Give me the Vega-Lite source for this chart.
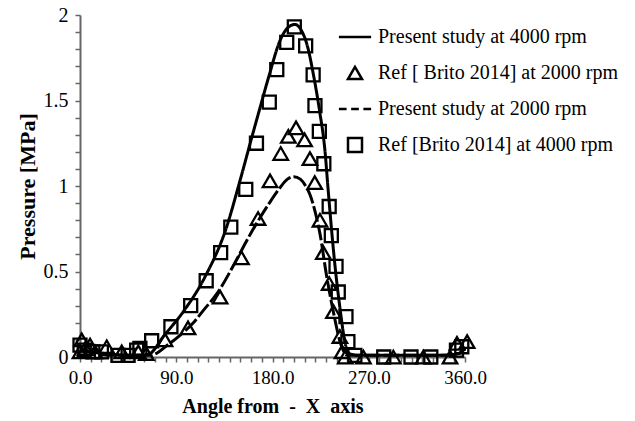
{
  "$schema": "https://vega.github.io/schema/vega-lite/v6.json",
  "width": 385,
  "height": 342,
  "autosize": {"type": "none"},
  "padding": {"left": 80, "top": 15, "right": 170, "bottom": 64},
  "background": "white",
  "config": {
    "view": {"stroke": null},
    "font": "Liberation Serif",
    "axis": {
      "domainColor": "#666",
      "domainWidth": 2,
      "tickColor": "#666",
      "tickWidth": 1.5,
      "grid": false,
      "labelFont": "Liberation Serif",
      "labelFontSize": 19,
      "labelColor": "black",
      "titleFont": "Liberation Serif",
      "titleFontWeight": "bold",
      "titleColor": "black"
    }
  },
  "data": {
    "values": [
      {"s": "Present study at 4000 rpm", "a": 0, "p": 0.05},
      {"s": "Present study at 4000 rpm", "a": 10, "p": 0.03},
      {"s": "Present study at 4000 rpm", "a": 25, "p": 0.02},
      {"s": "Present study at 4000 rpm", "a": 45, "p": 0.01},
      {"s": "Present study at 4000 rpm", "a": 60, "p": 0.01},
      {"s": "Present study at 4000 rpm", "a": 65.5, "p": 0.02},
      {"s": "Present study at 4000 rpm", "a": 78, "p": 0.12},
      {"s": "Present study at 4000 rpm", "a": 96, "p": 0.26},
      {"s": "Present study at 4000 rpm", "a": 117, "p": 0.47},
      {"s": "Present study at 4000 rpm", "a": 136, "p": 0.74},
      {"s": "Present study at 4000 rpm", "a": 150, "p": 1.04},
      {"s": "Present study at 4000 rpm", "a": 160, "p": 1.27},
      {"s": "Present study at 4000 rpm", "a": 168, "p": 1.45},
      {"s": "Present study at 4000 rpm", "a": 177, "p": 1.65},
      {"s": "Present study at 4000 rpm", "a": 187, "p": 1.85},
      {"s": "Present study at 4000 rpm", "a": 195, "p": 1.93},
      {"s": "Present study at 4000 rpm", "a": 201, "p": 1.945},
      {"s": "Present study at 4000 rpm", "a": 207, "p": 1.91},
      {"s": "Present study at 4000 rpm", "a": 213, "p": 1.81},
      {"s": "Present study at 4000 rpm", "a": 218, "p": 1.66},
      {"s": "Present study at 4000 rpm", "a": 224, "p": 1.44},
      {"s": "Present study at 4000 rpm", "a": 229, "p": 1.21},
      {"s": "Present study at 4000 rpm", "a": 232, "p": 0.98},
      {"s": "Present study at 4000 rpm", "a": 235, "p": 0.76},
      {"s": "Present study at 4000 rpm", "a": 238.5, "p": 0.53},
      {"s": "Present study at 4000 rpm", "a": 243, "p": 0.29},
      {"s": "Present study at 4000 rpm", "a": 248, "p": 0.08},
      {"s": "Present study at 4000 rpm", "a": 252, "p": 0.02},
      {"s": "Present study at 4000 rpm", "a": 260, "p": 0.01},
      {"s": "Present study at 4000 rpm", "a": 300, "p": 0.01},
      {"s": "Present study at 4000 rpm", "a": 340, "p": 0.01},
      {"s": "Present study at 4000 rpm", "a": 354, "p": 0.02},
      {"s": "Present study at 4000 rpm", "a": 360, "p": 0.06},

      {"s": "Present study at 2000 rpm", "a": 0, "p": 0.04},
      {"s": "Present study at 2000 rpm", "a": 15, "p": 0.02},
      {"s": "Present study at 2000 rpm", "a": 30, "p": 0.01},
      {"s": "Present study at 2000 rpm", "a": 50, "p": 0.01},
      {"s": "Present study at 2000 rpm", "a": 65.5, "p": 0.01},
      {"s": "Present study at 2000 rpm", "a": 84, "p": 0.08},
      {"s": "Present study at 2000 rpm", "a": 94, "p": 0.13},
      {"s": "Present study at 2000 rpm", "a": 106, "p": 0.2},
      {"s": "Present study at 2000 rpm", "a": 115, "p": 0.27},
      {"s": "Present study at 2000 rpm", "a": 128, "p": 0.37},
      {"s": "Present study at 2000 rpm", "a": 146.5, "p": 0.57},
      {"s": "Present study at 2000 rpm", "a": 155, "p": 0.67},
      {"s": "Present study at 2000 rpm", "a": 165, "p": 0.78},
      {"s": "Present study at 2000 rpm", "a": 177, "p": 0.9},
      {"s": "Present study at 2000 rpm", "a": 187, "p": 0.99},
      {"s": "Present study at 2000 rpm", "a": 194, "p": 1.04},
      {"s": "Present study at 2000 rpm", "a": 200, "p": 1.054},
      {"s": "Present study at 2000 rpm", "a": 206, "p": 1.04},
      {"s": "Present study at 2000 rpm", "a": 211, "p": 1.0},
      {"s": "Present study at 2000 rpm", "a": 215, "p": 0.95},
      {"s": "Present study at 2000 rpm", "a": 221, "p": 0.82},
      {"s": "Present study at 2000 rpm", "a": 224.4, "p": 0.72},
      {"s": "Present study at 2000 rpm", "a": 230.7, "p": 0.47},
      {"s": "Present study at 2000 rpm", "a": 236.7, "p": 0.27},
      {"s": "Present study at 2000 rpm", "a": 244.7, "p": 0.06},
      {"s": "Present study at 2000 rpm", "a": 250, "p": 0.01},
      {"s": "Present study at 2000 rpm", "a": 260, "p": 0.01},
      {"s": "Present study at 2000 rpm", "a": 300, "p": 0.01},
      {"s": "Present study at 2000 rpm", "a": 340, "p": 0.01},
      {"s": "Present study at 2000 rpm", "a": 354, "p": 0.02},
      {"s": "Present study at 2000 rpm", "a": 360, "p": 0.05},

      {"s": "Ref [ Brito 2014] at 2000 rpm", "a": 0, "p": 0.03},
      {"s": "Ref [ Brito 2014] at 2000 rpm", "a": 1.6, "p": 0.1},
      {"s": "Ref [ Brito 2014] at 2000 rpm", "a": 5, "p": 0.05},
      {"s": "Ref [ Brito 2014] at 2000 rpm", "a": 9.4, "p": 0.07},
      {"s": "Ref [ Brito 2014] at 2000 rpm", "a": 14, "p": 0.03},
      {"s": "Ref [ Brito 2014] at 2000 rpm", "a": 25, "p": 0.06},
      {"s": "Ref [ Brito 2014] at 2000 rpm", "a": 39, "p": 0.03},
      {"s": "Ref [ Brito 2014] at 2000 rpm", "a": 54.5, "p": 0.03},
      {"s": "Ref [ Brito 2014] at 2000 rpm", "a": 62, "p": 0.02},
      {"s": "Ref [ Brito 2014] at 2000 rpm", "a": 79.5, "p": 0.1},
      {"s": "Ref [ Brito 2014] at 2000 rpm", "a": 101, "p": 0.17},
      {"s": "Ref [ Brito 2014] at 2000 rpm", "a": 131, "p": 0.35},
      {"s": "Ref [ Brito 2014] at 2000 rpm", "a": 151, "p": 0.58},
      {"s": "Ref [ Brito 2014] at 2000 rpm", "a": 166.5, "p": 0.81},
      {"s": "Ref [ Brito 2014] at 2000 rpm", "a": 177.7, "p": 1.03},
      {"s": "Ref [ Brito 2014] at 2000 rpm", "a": 187.7, "p": 1.19},
      {"s": "Ref [ Brito 2014] at 2000 rpm", "a": 194.8, "p": 1.29},
      {"s": "Ref [ Brito 2014] at 2000 rpm", "a": 202, "p": 1.34},
      {"s": "Ref [ Brito 2014] at 2000 rpm", "a": 210, "p": 1.27},
      {"s": "Ref [ Brito 2014] at 2000 rpm", "a": 215, "p": 1.16},
      {"s": "Ref [ Brito 2014] at 2000 rpm", "a": 219.5, "p": 1.02},
      {"s": "Ref [ Brito 2014] at 2000 rpm", "a": 224.4, "p": 0.8},
      {"s": "Ref [ Brito 2014] at 2000 rpm", "a": 227.5, "p": 0.61},
      {"s": "Ref [ Brito 2014] at 2000 rpm", "a": 233, "p": 0.43},
      {"s": "Ref [ Brito 2014] at 2000 rpm", "a": 237, "p": 0.265},
      {"s": "Ref [ Brito 2014] at 2000 rpm", "a": 243, "p": 0.12},
      {"s": "Ref [ Brito 2014] at 2000 rpm", "a": 245, "p": 0.03},
      {"s": "Ref [ Brito 2014] at 2000 rpm", "a": 248, "p": 0.0},
      {"s": "Ref [ Brito 2014] at 2000 rpm", "a": 265, "p": 0.0},
      {"s": "Ref [ Brito 2014] at 2000 rpm", "a": 293, "p": 0.0},
      {"s": "Ref [ Brito 2014] at 2000 rpm", "a": 321, "p": 0.0},
      {"s": "Ref [ Brito 2014] at 2000 rpm", "a": 346, "p": 0.0},
      {"s": "Ref [ Brito 2014] at 2000 rpm", "a": 352.5, "p": 0.08},
      {"s": "Ref [ Brito 2014] at 2000 rpm", "a": 362, "p": 0.09},

      {"s": "Ref [Brito 2014] at 4000 rpm", "a": 0, "p": 0.07},
      {"s": "Ref [Brito 2014] at 4000 rpm", "a": 4, "p": 0.04},
      {"s": "Ref [Brito 2014] at 4000 rpm", "a": 12, "p": 0.03},
      {"s": "Ref [Brito 2014] at 4000 rpm", "a": 20, "p": 0.03},
      {"s": "Ref [Brito 2014] at 4000 rpm", "a": 35.5, "p": 0.01},
      {"s": "Ref [Brito 2014] at 4000 rpm", "a": 45, "p": 0.01},
      {"s": "Ref [Brito 2014] at 4000 rpm", "a": 53, "p": 0.04},
      {"s": "Ref [Brito 2014] at 4000 rpm", "a": 56, "p": 0.05},
      {"s": "Ref [Brito 2014] at 4000 rpm", "a": 67, "p": 0.095},
      {"s": "Ref [Brito 2014] at 4000 rpm", "a": 85, "p": 0.177},
      {"s": "Ref [Brito 2014] at 4000 rpm", "a": 103.5, "p": 0.3},
      {"s": "Ref [Brito 2014] at 4000 rpm", "a": 118, "p": 0.446},
      {"s": "Ref [Brito 2014] at 4000 rpm", "a": 131.5, "p": 0.61},
      {"s": "Ref [Brito 2014] at 4000 rpm", "a": 141, "p": 0.76},
      {"s": "Ref [Brito 2014] at 4000 rpm", "a": 155, "p": 0.98},
      {"s": "Ref [Brito 2014] at 4000 rpm", "a": 165, "p": 1.25},
      {"s": "Ref [Brito 2014] at 4000 rpm", "a": 177, "p": 1.49},
      {"s": "Ref [Brito 2014] at 4000 rpm", "a": 184, "p": 1.68},
      {"s": "Ref [Brito 2014] at 4000 rpm", "a": 193.3, "p": 1.84},
      {"s": "Ref [Brito 2014] at 4000 rpm", "a": 200.4, "p": 1.93},
      {"s": "Ref [Brito 2014] at 4000 rpm", "a": 211, "p": 1.82},
      {"s": "Ref [Brito 2014] at 4000 rpm", "a": 218, "p": 1.65},
      {"s": "Ref [Brito 2014] at 4000 rpm", "a": 219.7, "p": 1.47},
      {"s": "Ref [Brito 2014] at 4000 rpm", "a": 223.8, "p": 1.32},
      {"s": "Ref [Brito 2014] at 4000 rpm", "a": 228, "p": 1.13},
      {"s": "Ref [Brito 2014] at 4000 rpm", "a": 233, "p": 0.88},
      {"s": "Ref [Brito 2014] at 4000 rpm", "a": 235, "p": 0.71},
      {"s": "Ref [Brito 2014] at 4000 rpm", "a": 239.4, "p": 0.53},
      {"s": "Ref [Brito 2014] at 4000 rpm", "a": 241.5, "p": 0.38},
      {"s": "Ref [Brito 2014] at 4000 rpm", "a": 248.7, "p": 0.236},
      {"s": "Ref [Brito 2014] at 4000 rpm", "a": 250.5, "p": 0.09},
      {"s": "Ref [Brito 2014] at 4000 rpm", "a": 257, "p": 0.01},
      {"s": "Ref [Brito 2014] at 4000 rpm", "a": 284, "p": 0.0},
      {"s": "Ref [Brito 2014] at 4000 rpm", "a": 309.5, "p": 0.0},
      {"s": "Ref [Brito 2014] at 4000 rpm", "a": 328, "p": 0.0},
      {"s": "Ref [Brito 2014] at 4000 rpm", "a": 352, "p": 0.04},
      {"s": "Ref [Brito 2014] at 4000 rpm", "a": 357, "p": 0.06}
    ]
  },
  "encoding": {
    "x": {
      "field": "a",
      "type": "quantitative",
      "scale": {"domain": [0, 360], "nice": false, "zero": false},
      "axis": {
        "title": "Angle from \u00a0-\u00a0 X \u00a0axis",
        "titleFontSize": 20,
        "titlePadding": 9,
        "values": [0,10,20,30,40,50,60,70,80,90,100,110,120,130,140,150,160,170,180,190,200,210,220,230,240,250,260,270,280,290,300,310,320,330,340,350,360],
        "labelExpr": "datum.value % 90 == 0 ? format(datum.value, '.1f') : ''",
        "tickSize": 5,
        "labelPadding": 6,
        "labelFlush": false,
        "labelOverlap": false
      }
    },
    "y": {
      "field": "p",
      "type": "quantitative",
      "scale": {"domain": [0, 2], "nice": false},
      "axis": {
        "title": "Pressure [MPa]",
        "titleFontSize": 22,
        "titlePadding": 4,
        "values": [0,0.1,0.2,0.3,0.4,0.5,0.6,0.7,0.8,0.9,1,1.1,1.2,1.3,1.4,1.5,1.6,1.7,1.8,1.9,2],
        "labelExpr": "abs(datum.value*2 - round(datum.value*2)) < 0.001 ? format(datum.value, '~g') : ''",
        "tickSize": 5,
        "labelPadding": 7,
        "labelOverlap": false,
        "labelFontSize": 20
      }
    }
  },
  "layer": [
    {
      "transform": [{"filter": {"field": "s", "oneOf": ["Present study at 4000 rpm", "Present study at 2000 rpm"]}}],
      "mark": {"type": "line", "color": "black", "strokeWidth": 3, "interpolate": "monotone"},
      "encoding": {
        "detail": {"field": "s"},
        "strokeDash": {
          "field": "s",
          "scale": {"domain": ["Present study at 4000 rpm", "Present study at 2000 rpm"], "range": [[1, 0], [16, 3]]},
          "legend": null
        }
      }
    },
    {
      "transform": [{"filter": {"field": "s", "oneOf": ["Ref [ Brito 2014] at 2000 rpm", "Ref [Brito 2014] at 4000 rpm"]}}],
      "mark": {"type": "point", "filled": false, "color": "black", "strokeWidth": 2.3, "opacity": 1},
      "encoding": {
        "shape": {
          "field": "s",
          "scale": {
            "domain": ["Present study at 4000 rpm", "Ref [ Brito 2014] at 2000 rpm", "Present study at 2000 rpm", "Ref [Brito 2014] at 4000 rpm"],
            "range": ["M-2.3,0H2.3", "triangle-up", "M-2.3,0H-1.2M-0.55,0H0.55M1.2,0H2.3", "square"]
          },
          "legend": {
            "title": null,
            "orient": "none",
            "legendX": 265,
            "legendY": 12,
            "padding": 0,
            "symbolSize": 196,
            "symbolStrokeColor": "black",
            "symbolStrokeWidth": 2.5,
            "symbolFillColor": "transparent",
            "labelFont": "Liberation Serif",
            "labelFontSize": 20,
            "labelColor": "black",
            "labelLimit": 0,
            "labelOffset": 13,
            "rowPadding": 14
          }
        },
        "size": {"condition": {"test": "datum.s == 'Ref [Brito 2014] at 4000 rpm'", "value": 169}, "value": 210}
      }
    }
  ]
}
